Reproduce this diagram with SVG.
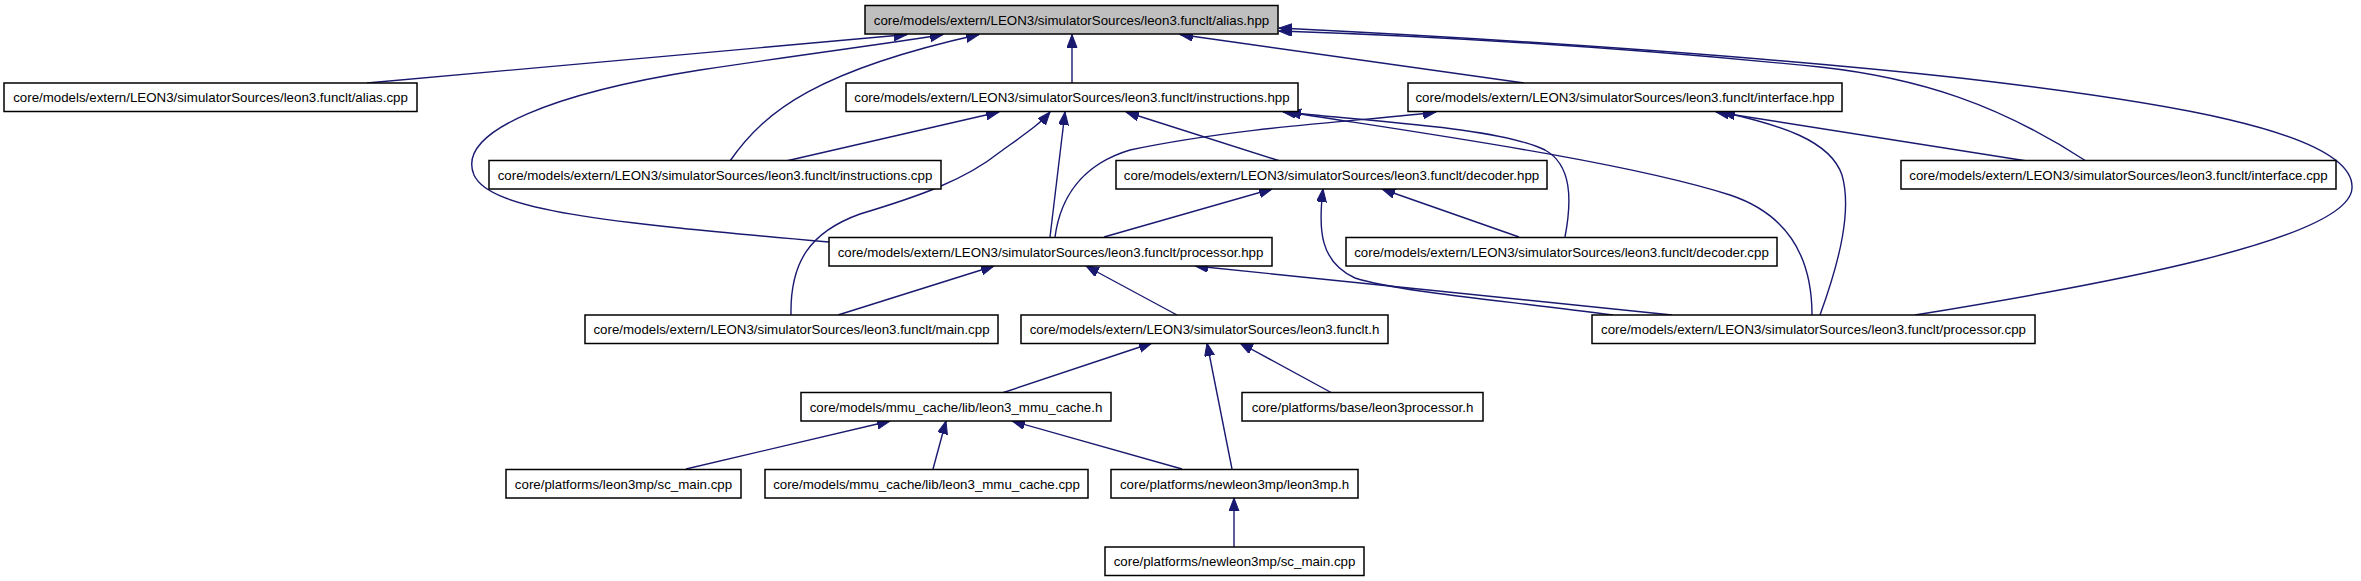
<svg xmlns="http://www.w3.org/2000/svg" width="2361" height="581" viewBox="0 0 2361 581">
<style>
.n rect{fill:#fff;stroke:#000;stroke-width:1.5}
.n text{font-family:"Liberation Sans",Arial,sans-serif;font-size:13.3px;fill:#000;text-anchor:middle}
#alias_hpp rect{fill:#bfbfbf}
.e path{fill:none;stroke:#191970;stroke-width:1.4;marker-end:url(#ah)}
</style>
<defs>
<marker id="ah" markerUnits="userSpaceOnUse" markerWidth="16" markerHeight="12" refX="13" refY="5" orient="auto">
<path d="M0,0 L13,5 L0,10 z" fill="#191970" stroke="#191970" stroke-width="1"/>
</marker>
</defs>
<rect width="2361" height="581" fill="#fff"/>
<g id="edges" class="e">
<path d="M367,83 L907,34.5"/>
<path d="M829,242 C600,222 490,210 474,175 C455,130 560,92 700,70 C820,52 900,42 943,34.5"/>
<path d="M730,161 C765,110 820,70 979,34.5"/>
<path d="M1072,83 L1072,34.5"/>
<path d="M1524,83 L1180,34.5"/>
<path d="M2086,161 C2000,105 1920,78 1820,67 C1600,45 1400,35 1279,31"/>
<path d="M1915,315 C2100,285 2350,240 2352,188 C2355,130 2150,100 1960,78 C1700,50 1400,34 1279,28"/>
<path d="M786,161 L999,112"/>
<path d="M791,315 C790,262 810,232 860,214 C920,196 965,180 1000,152 C1025,134 1040,124 1050,112"/>
<path d="M1050,237 L1065,112"/>
<path d="M1280,161 L1126,112"/>
<path d="M1565,237 C1572,200 1572,165 1545,150 C1500,128 1380,122 1283,112"/>
<path d="M1812,315 C1812,260 1790,215 1730,195 C1620,160 1400,130 1288,112"/>
<path d="M2027,161 L1716,112"/>
<path d="M1820,315 C1840,260 1852,210 1842,175 C1830,140 1780,125 1722,112"/>
<path d="M1055,237 C1060,200 1080,165 1130,150 C1250,125 1380,120 1436,112"/>
<path d="M1104,237 L1272,189"/>
<path d="M1613,315 C1500,300 1400,292 1355,278 C1320,262 1318,230 1323,189"/>
<path d="M1519,237 L1382,189"/>
<path d="M838,315 L994,266"/>
<path d="M1177,315 L1086,266"/>
<path d="M1672,315 L1195,266"/>
<path d="M1002,393 L1152,343"/>
<path d="M1232,469 L1207,343"/>
<path d="M1332,393 L1240,343"/>
<path d="M686,469 L890,421"/>
<path d="M933,469 L946,421"/>
<path d="M1182,469 L1012,421"/>
<path d="M1234,547 L1234,498"/>
</g>
<g id="alias_hpp" class="n"><rect x="865" y="5.5" width="413" height="28.5"/><text x="1071.5" y="24.6">core/models/extern/LEON3/simulatorSources/leon3.funclt/alias.hpp</text></g>
<g id="alias_cpp" class="n"><rect x="4" y="83" width="413" height="28.5"/><text x="210.5" y="102">core/models/extern/LEON3/simulatorSources/leon3.funclt/alias.cpp</text></g>
<g id="instructions_hpp" class="n"><rect x="846" y="83" width="452" height="28.5"/><text x="1072" y="102">core/models/extern/LEON3/simulatorSources/leon3.funclt/instructions.hpp</text></g>
<g id="interface_hpp" class="n"><rect x="1408" y="83" width="434" height="28.5"/><text x="1625" y="102">core/models/extern/LEON3/simulatorSources/leon3.funclt/interface.hpp</text></g>
<g id="instructions_cpp" class="n"><rect x="489" y="160.5" width="452" height="28.5"/><text x="715" y="179.5">core/models/extern/LEON3/simulatorSources/leon3.funclt/instructions.cpp</text></g>
<g id="decoder_hpp" class="n"><rect x="1116" y="160.5" width="431" height="28.5"/><text x="1331.5" y="179.5">core/models/extern/LEON3/simulatorSources/leon3.funclt/decoder.hpp</text></g>
<g id="interface_cpp" class="n"><rect x="1901" y="160.5" width="435" height="28.5"/><text x="2118.5" y="179.5">core/models/extern/LEON3/simulatorSources/leon3.funclt/interface.cpp</text></g>
<g id="processor_hpp" class="n"><rect x="829" y="237.5" width="443" height="28.5"/><text x="1050.5" y="256.5">core/models/extern/LEON3/simulatorSources/leon3.funclt/processor.hpp</text></g>
<g id="decoder_cpp" class="n"><rect x="1346" y="237.5" width="431" height="28.5"/><text x="1561.5" y="256.5">core/models/extern/LEON3/simulatorSources/leon3.funclt/decoder.cpp</text></g>
<g id="main_cpp" class="n"><rect x="585" y="315" width="413" height="28.5"/><text x="791.5" y="334">core/models/extern/LEON3/simulatorSources/leon3.funclt/main.cpp</text></g>
<g id="funclt_h" class="n"><rect x="1021" y="315" width="367" height="28.5"/><text x="1204.5" y="334">core/models/extern/LEON3/simulatorSources/leon3.funclt.h</text></g>
<g id="processor_cpp" class="n"><rect x="1592" y="315" width="443" height="28.5"/><text x="1813.5" y="334">core/models/extern/LEON3/simulatorSources/leon3.funclt/processor.cpp</text></g>
<g id="mmu_cache_h" class="n"><rect x="801" y="392.5" width="310" height="28.5"/><text x="956" y="411.5">core/models/mmu_cache/lib/leon3_mmu_cache.h</text></g>
<g id="leon3processor_h" class="n"><rect x="1242" y="392.5" width="241" height="28.5"/><text x="1362.5" y="411.5">core/platforms/base/leon3processor.h</text></g>
<g id="leon3mp_sc_main" class="n"><rect x="506" y="469.5" width="235" height="28.5"/><text x="623.5" y="488.5">core/platforms/leon3mp/sc_main.cpp</text></g>
<g id="mmu_cache_cpp" class="n"><rect x="765" y="469.5" width="323" height="28.5"/><text x="926.5" y="488.5">core/models/mmu_cache/lib/leon3_mmu_cache.cpp</text></g>
<g id="leon3mp_h" class="n"><rect x="1111" y="469.5" width="247" height="28.5"/><text x="1234.5" y="488.5">core/platforms/newleon3mp/leon3mp.h</text></g>
<g id="newleon3mp_sc_main" class="n"><rect x="1105" y="547" width="259" height="28.5"/><text x="1234.5" y="566">core/platforms/newleon3mp/sc_main.cpp</text></g>
</svg>
